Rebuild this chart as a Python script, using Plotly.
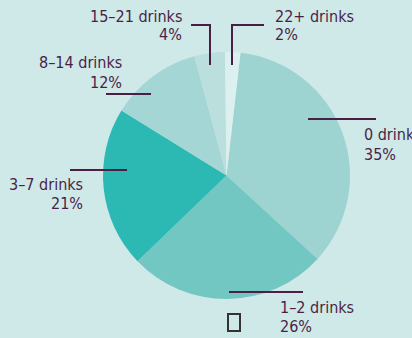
import plotly.graph_objects as go

# Weekly drinks distribution
categories = ["0 drinks", "1–2 drinks", "3–7 drinks", "8–14 drinks", "15–21 drinks", "22+ drinks"]
shares = [35, 26, 21, 12, 4, 2]
pct_labels = ["35%", "26%", "21%", "12%", "4%", "2%"]
slice_colors = ["#9dd3d1", "#73c7c3", "#2cb9b3", "#a3d6d4", "#badfdd", "#ddf0f0"]

W, H = 412, 338
BG = "#cfe8e8"
INK = "#4a1f45"
FONT = "Liberation Sans Narrow, DejaVu Sans Condensed, Arial Narrow, sans-serif"


def px(x):
    return x / W


def py(y):
    return 1 - y / H


fig = go.Figure(
    go.Pie(
        labels=categories,
        values=shares,
        sort=False,
        direction="clockwise",
        rotation=6.5,
        marker=dict(colors=slice_colors, line=dict(width=0)),
        textinfo="none",
        hoverinfo="label+percent",
        showlegend=False,
        domain=dict(x=[px(103), px(350)], y=[py(299), py(52)]),
    )
)

# label placement: (name line anchor, x, y centre of first line, align)
label_pos = {
    "0 drinks": (362, 135, "left"),
    "1–2 drinks": (278, 307, "left"),
    "3–7 drinks": (85, 184, "right"),
    "8–14 drinks": (124, 63, "right"),
    "15–21 drinks": (184, 16, "right"),
    "22+ drinks": (273, 16, "left"),
}
LINE_GAP = 19

annotations = []
for name, pct in zip(categories, pct_labels):
    x, y, side = label_pos[name]
    for i, txt in enumerate([name, pct]):
        annotations.append(
            dict(
                x=px(x), y=py(y + i * LINE_GAP), xref="paper", yref="paper",
                text=txt, showarrow=False, xanchor=side, yanchor="middle",
                font=dict(family=FONT, size=16, color=INK),
            )
        )

# leader lines (pixel paths converted to paper space)
leaders = [
    [(308, 119), (376, 119)],
    [(229, 292), (303, 292)],
    [(70, 170), (127, 170)],
    [(106, 94), (151, 94)],
    [(191, 25), (210, 25), (210, 65)],
    [(264, 25), (232, 25), (232, 65)],
]
shapes = []
for pts in leaders:
    path = "M " + " L ".join(f"{px(a)},{py(b)}" for a, b in pts)
    shapes.append(dict(type="path", xref="paper", yref="paper", path=path,
                       line=dict(color=INK, width=2)))

# small outlined box under the chart
shapes.append(dict(type="rect", xref="paper", yref="paper",
                   x0=px(228), x1=px(240), y0=py(331), y1=py(314),
                   line=dict(color="#333333", width=2), fillcolor="rgba(0,0,0,0)"))

fig.update_layout(
    width=W, height=H,
    margin=dict(l=0, r=0, t=0, b=0),
    paper_bgcolor=BG, plot_bgcolor=BG,
    annotations=annotations, shapes=shapes,
)

fig.write_html("out.html")
